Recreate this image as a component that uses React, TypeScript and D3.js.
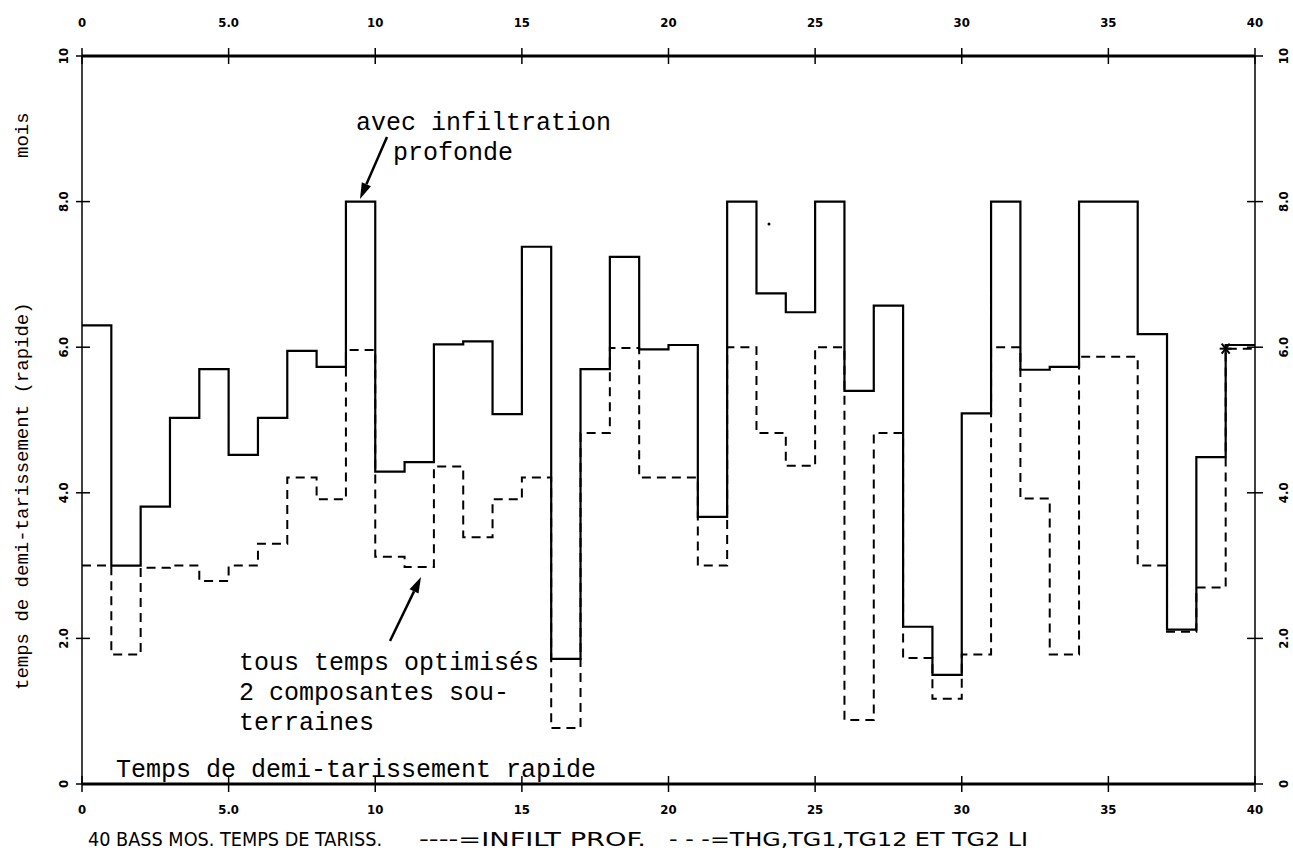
import * as d3 from 'd3';

// temps de demi-tarissement rapide (mois), 40 bassins
const infiltProf = [
    6.30, 3.00, 3.81, 5.03, 5.70, 4.52, 5.03, 5.95, 5.73, 8.00,
    4.29, 4.42, 6.04, 6.08, 5.08, 7.38, 1.72, 5.70, 7.24, 5.97,
    6.03, 3.67, 8.00, 6.74, 6.48, 8.00, 5.40, 6.57, 2.16, 1.50,
    5.09, 8.00, 5.69, 5.73, 8.00, 8.00, 6.18, 2.12, 4.49, 6.03,
];
const tousTemps = [
    3.00, 1.78, 2.97, 3.00, 2.79, 3.00, 3.30, 4.21, 3.91, 5.96,
    3.12, 2.98, 4.36, 3.39, 3.91, 4.21, 0.77, 4.82, 5.99, 4.21,
    4.21, 3.00, 6.00, 4.82, 4.37, 6.00, 0.88, 4.82, 1.73, 1.17,
    1.78, 6.00, 3.92, 1.78, 5.87, 5.87, 3.00, 2.09, 2.70, 5.98,
];
const xTickValues = [0, 5, 10, 15, 20, 25, 30, 35, 40];
const xTickLabels = ['0', '5.0', '10', '15', '20', '25', '30', '35', '40'];
const yTickValues = [0, 2, 4, 6, 8, 10];
const yTickLabels = ['0', '2.0', '4.0', '6.0', '8.0', '10'];

const width = 1293;
const height = 853;
const mono = '"Liberation Mono", "Courier New", monospace';
const tickFont = '"DejaVu Sans Condensed", "DejaVu Sans", sans-serif';
const plotFont = '"DejaVu Sans Condensed", "DejaVu Sans", sans-serif';

function arrow(x1: number, y1: number, x2: number, y2: number) {
    const a = Math.atan2(y2 - y1, x2 - x1);
    const len = 16, w = 5;
    const bx = x2 - len * Math.cos(a), by = y2 - len * Math.sin(a);
    const px = -Math.sin(a) * w, py = Math.cos(a) * w;
    return (
        <g>
            <line x1={x1} y1={y1} x2={bx} y2={by} stroke="black" strokeWidth={2.5} />
            <polygon points={`${x2},${y2} ${bx + px},${by + py} ${bx - px},${by - py}`} fill="black" />
        </g>
    );
}

const App = () => {
    const x = d3.scaleLinear().domain([0, 40]).range([82, 1255]);
    const y = d3.scaleLinear().domain([0, 10]).range([784, 56]);

    const step = d3.line<number>()
        .x((_, i) => x(i))
        .y(d => y(d))
        .curve(d3.curveStepAfter);
    const solidPath = step([...infiltProf, infiltProf[infiltProf.length - 1]]) || '';
    const dashedPath = step([...tousTemps, tousTemps[tousTemps.length - 1]]) || '';

    const [x0, x1] = x.range();
    const [yb, yt] = y.range();

    // ticks on the 4 sides
    const xTicks = xTickValues.map((v, i) => (
        <g key={'xt' + v} transform={`translate(${x(v)},0)`}>
            <line y1={yt - 8} y2={yt + 8} stroke="black" strokeWidth={1.5} />
            <line y1={yb - 8} y2={yb + 8} stroke="black" strokeWidth={1.5} />
            <text y={27} textAnchor="middle" style={{ font: `bold 13px ${tickFont}` }}>{xTickLabels[i]}</text>
            <text y={814} textAnchor="middle" style={{ font: `bold 13px ${tickFont}` }}>{xTickLabels[i]}</text>
        </g>
    ));
    const yTicks = yTickValues.map((v, i) => (
        <g key={'yt' + v} transform={`translate(0,${y(v)})`}>
            <line x1={x0 - 6} x2={x0 + 8} stroke="black" strokeWidth={1.5} />
            <line x1={x1 - 8} x2={x1 + 8} stroke="black" strokeWidth={1.5} />
            <text transform={`translate(68,0) rotate(-90)`} textAnchor="middle" style={{ font: `bold 13px ${tickFont}` }}>{yTickLabels[i]}</text>
            <text transform={`translate(1288,0) rotate(-90)`} textAnchor="middle" style={{ font: `bold 13px ${tickFont}` }}>{yTickLabels[i]}</text>
        </g>
    ));

    const starX = x(39), starY = y(tousTemps[39]);

    return (
        <svg width={width} height={height} style={{ position: 'absolute', left: 0, top: 0, background: 'white' }}>
            <rect width={width} height={height} fill="white" />
            {/* frame */}
            <line x1={x0} x2={x1} y1={yt} y2={yt} stroke="black" strokeWidth={3} />
            <line x1={x0} x2={x1} y1={yb} y2={yb} stroke="black" strokeWidth={3} />
            <line x1={x0} x2={x0} y1={yt} y2={yb} stroke="black" strokeWidth={1.5} />
            <line x1={x1} x2={x1} y1={yt} y2={yb} stroke="black" strokeWidth={1.5} />
            {xTicks}
            {yTicks}

            {/* series */}
            <path d={dashedPath} fill="none" stroke="black" strokeWidth={2} strokeDasharray="9,6" />
            <path d={solidPath} fill="none" stroke="black" strokeWidth={2.2} />
            <g stroke="black" strokeWidth={2}>
                <line x1={starX - 6} x2={starX + 6} y1={starY} y2={starY} />
                <line x1={starX - 4} x2={starX + 4} y1={starY - 5} y2={starY + 5} />
                <line x1={starX + 4} x2={starX - 4} y1={starY - 5} y2={starY + 5} />
            </g>
            <circle cx={769} cy={224} r={1.5} fill="black" />

            {/* annotations */}
            <g style={{ font: `25px ${mono}` }} fill="black">
                <text x={356} y={130}>avec infiltration</text>
                <text x={393} y={160}>profonde</text>
                <text x={239} y={670}>tous temps optimisés</text>
                <text x={239} y={700}>2 composantes sou-</text>
                <text x={239} y={730}>terraines</text>
                <text x={116} y={777}>Temps de demi-tarissement rapide</text>
            </g>
            {arrow(387, 137, 360, 199)}
            {arrow(390, 641, 421, 577)}

            {/* y title */}
            <g style={{ font: `19px ${mono}` }}>
                <text transform="translate(28,690) rotate(-90)">temps de demi-tarissement (rapide)</text>
                <text transform="translate(28,158) rotate(-90)">mois</text>
            </g>

            {/* caption */}
            <g style={{ font: `19px ${plotFont}` }}>
                <text x={88} y={846} textLength={294} lengthAdjust="spacingAndGlyphs">40 BASS MOS. TEMPS DE TARISS.</text>
                <text x={419} y={846} textLength={227} lengthAdjust="spacingAndGlyphs">----=INFILT PROF.</text>
                <text x={669} y={846} textLength={359} lengthAdjust="spacingAndGlyphs">- - -=THG,TG1,TG12 ET TG2 LI</text>
            </g>
        </svg>
    );
};

export default App;
